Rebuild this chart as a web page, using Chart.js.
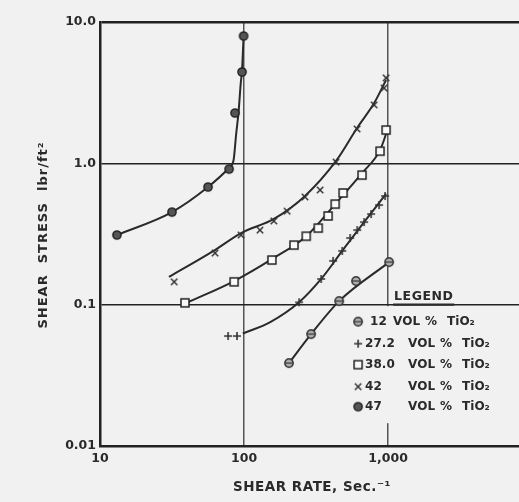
<!DOCTYPE html>
<html><head><meta charset="utf-8">
<script src="https://cdn.jsdelivr.net/npm/chart.js@4.4.0/dist/chart.umd.min.js"></script>
<style>html,body{margin:0;padding:0;background:#f1f1f1;}canvas{display:block;}</style>
</head><body>
<canvas id="c" width="519" height="502"></canvas>
<script>
// ---- tick labels ----
const xTicks = [10, 100, 1000];
const xTickLabels = ['10', '100', '1,000'];
const yTicks = [0.01, 0.1, 1, 10];
const yTickLabels = ['0.01', '0.1', '1.0', '10.0'];
const xTitle = 'SHEAR RATE, Sec.⁻¹';
const yTitle = 'SHEAR  STRESS  lbr/ft²';
const legendTitle = 'LEGEND';
const seriesNames = ['12', '27.2', '38.0', '42', '47'];
const legendWords = ['VOL', '%', 'TiO₂'];

// ---- measured points ----
const rate12 = [205, 292, 457, 599, 1016];
const stress12 = [0.0386, 0.0619, 0.106, 0.147, 0.200];
const rate27 = [77.5, 89.3, 241, 343, 415, 480, 545, 610, 681, 762, 866, 953];
const stress27 = [0.060, 0.060, 0.104, 0.152, 0.204, 0.240, 0.296, 0.337, 0.384, 0.438, 0.507, 0.587];
const rate38 = [38.9, 85.3, 156, 222, 270, 327, 383, 429, 487, 659, 879, 968];
const stress38 = [0.103, 0.145, 0.207, 0.264, 0.305, 0.348, 0.424, 0.515, 0.617, 0.826, 1.22, 1.72];
const rate42 = [32.7, 62.9, 95.3, 129, 161, 199, 265, 337, 435, 609, 800, 938, 968];
const stress42 = [0.145, 0.232, 0.311, 0.337, 0.391, 0.459, 0.578, 0.648, 1.02, 1.75, 2.59, 3.41, 4.02];
const rate47 = [13.1, 31.6, 56.2, 78.7, 86.6, 96.8, 99.3];
const stress47 = [0.311, 0.452, 0.68, 0.91, 2.27, 4.43, 7.96];

// ---- faired curves ----
const fitRate12 = [205, 292, 457, 1016];
const fitStress12 = [0.0386, 0.0619, 0.106, 0.200];
const fitRate27 = [98, 152, 241, 343, 480, 681, 968];
const fitStress27 = [0.0625, 0.0753, 0.104, 0.152, 0.240, 0.384, 0.607];
const fitRate38 = [40.8, 85.3, 156, 270, 429, 659, 879, 1000];
const fitStress38 = [0.104, 0.147, 0.210, 0.305, 0.515, 0.853, 1.24, 1.78];
const fitRate42 = [30.1, 61, 95.3, 161, 265, 435, 609, 800, 968];
const fitStress42 = [0.157, 0.239, 0.321, 0.404, 0.588, 1.04, 1.78, 2.67, 3.89];
const fitRate47 = [13.1, 31.6, 56.2, 78.7, 84.6, 88.0, 91.6, 94.6, 96.8, 99.3];
const fitStress47 = [0.311, 0.452, 0.68, 0.93, 1.055, 1.586, 2.31, 3.58, 4.57, 7.96];

const BG = '#f1f1f1';
const INK = '#2a2a2a';

function marker(size, draw) {
  const c = document.createElement('canvas');
  c.width = size; c.height = size;
  const g = c.getContext('2d');
  g.translate(size / 2, size / 2);
  draw(g);
  return c;
}
const mTheta = marker(12, g => {
  g.beginPath(); g.arc(0, 0, 4.2, 0, Math.PI * 2);
  g.fillStyle = '#b0b0b0'; g.fill();
  g.lineWidth = 1.4; g.strokeStyle = '#333'; g.stroke();
  g.beginPath(); g.moveTo(-4.2, 0); g.lineTo(4.2, 0); g.lineWidth = 1.2; g.stroke();
});
const mPlus = marker(12, g => {
  g.strokeStyle = '#333'; g.lineWidth = 1.6;
  g.beginPath(); g.moveTo(-4, 0); g.lineTo(4, 0); g.moveTo(0, -4); g.lineTo(0, 4); g.stroke();
});
const mSquare = marker(12, g => {
  g.fillStyle = '#fbfbfb'; g.fillRect(-4, -4, 8, 8);
  g.strokeStyle = '#222'; g.lineWidth = 1.5; g.strokeRect(-4, -4, 8, 8);
});
const mCross = marker(12, g => {
  g.strokeStyle = '#333'; g.lineWidth = 1.5;
  g.beginPath(); g.moveTo(-3.2, -3.2); g.lineTo(3.2, 3.2); g.moveTo(3.2, -3.2); g.lineTo(-3.2, 3.2); g.stroke();
});
const mDot = marker(12, g => {
  g.beginPath(); g.arc(0, 0, 4.1, 0, Math.PI * 2);
  g.fillStyle = '#555'; g.fill();
  g.lineWidth = 1.5; g.strokeStyle = '#222'; g.stroke();
});
const markers = [mTheta, mPlus, mSquare, mCross, mDot];

const pts = (xs, ys) => xs.map((v, i) => ({ x: v, y: ys[i] }));
const measured = [[rate12, stress12], [rate27, stress27], [rate38, stress38], [rate42, stress42], [rate47, stress47]];
const fits = [[fitRate12, fitStress12], [fitRate27, fitStress27], [fitRate38, fitStress38], [fitRate42, fitStress42], [fitRate47, fitStress47]];

const datasets = [];
measured.forEach((m, i) => {
  datasets.push({
    label: seriesNames[i] + ' VOL % TiO₂',
    data: pts(m[0], m[1]),
    showLine: false,
    pointStyle: markers[i],
    pointRadius: 5,
    order: 0
  });
});
fits.forEach((f, i) => {
  datasets.push({
    label: 'fit ' + seriesNames[i],
    data: pts(f[0], f[1]),
    showLine: true,
    borderColor: INK,
    borderWidth: 2,
    pointRadius: 0,
    cubicInterpolationMode: 'monotone',
    fill: false,
    order: 1
  });
});

const decor = {
  id: 'decor',
  beforeDatasetsDraw(chart) {
    const { ctx, scales: { x, y } } = chart;
    const gx = x.getPixelForValue(1000);
    const y1 = y.getPixelForValue(0.1) + 1.5;
    const y2 = y.getPixelForValue(0.0145);
    ctx.save();
    ctx.fillStyle = BG;
    ctx.fillRect(gx - 3, y1, 6, y2 - y1);
    ctx.restore();
  },
  afterDraw(chart) {
    const { ctx, scales: { x, y } } = chart;
    const gx = x.getPixelForValue(1000);
    const gy = y.getPixelForValue(0.1);
    ctx.save();
    ctx.fillStyle = INK;
    ctx.strokeStyle = INK;
    // LEGEND heading
    ctx.font = 'bold 12.5px "DejaVu Sans"';
    ctx.letterSpacing = '0.5px';
    ctx.textBaseline = 'alphabetic';
    ctx.textAlign = 'left';
    ctx.fillText(legendTitle, gx + 6, gy - 5);
    const w = ctx.measureText(legendTitle).width;
    ctx.lineWidth = 2.2;
    ctx.beginPath(); ctx.moveTo(gx + 5, gy); ctx.lineTo(gx + 7 + w, gy); ctx.stroke();
    // rows
    ctx.font = 'bold 12px "DejaVu Sans"';
    ctx.letterSpacing = '0px';
    ctx.textBaseline = 'middle';
    const rowOff = [17, 39, 60, 82, 102];
    seriesNames.forEach((n, i) => {
      const ry = gy + rowOff[i];
      const m = markers[i];
      ctx.drawImage(m, gx - 30 - m.width / 2, ry - m.height / 2);
      const shift = i === 0 ? -15 : 0;
      ctx.fillText(n, gx - 23 + (i === 0 ? 5 : 0), ry);
      ctx.fillText(legendWords[0], gx + 20 + shift, ry);
      ctx.fillText(legendWords[1], gx + 52 + shift, ry);
      ctx.fillText(legendWords[2], gx + 74 + shift, ry);
    });
    // axis titles
    ctx.textAlign = 'center';
    ctx.textBaseline = 'middle';
    ctx.font = 'bold 13.5px "DejaVu Sans"';
    ctx.letterSpacing = '0.5px';
    ctx.fillText(xTitle, 312, 487);
    ctx.translate(44, 235);
    ctx.rotate(-Math.PI / 2);
    ctx.font = 'bold 13px "DejaVu Sans"';
    ctx.letterSpacing = '1px';
    ctx.fillText(yTitle, 0, 0);
    ctx.restore();
  }
};

new Chart(document.getElementById('c'), {
  type: 'scatter',
  data: { datasets },
  plugins: [decor],
  options: {
    responsive: false,
    animation: false,
    devicePixelRatio: 1,
    layout: { autoPadding: false, padding: { top: 22, right: 0, bottom: 0, left: 0 } },
    plugins: { legend: { display: false }, tooltip: { enabled: false } },
    scales: {
      x: {
        type: 'logarithmic',
        min: 10, max: 8100,
        afterBuildTicks: s => { s.ticks = xTicks.map(v => ({ value: v })); },
        afterFit: s => { s.height = 56; },
        ticks: {
          callback: v => xTickLabels[xTicks.indexOf(v)],
          font: { family: 'DejaVu Sans', size: 12.5, weight: 'bold' },
          color: INK, padding: 5, maxRotation: 0, autoSkip: false
        },
        grid: {
          drawTicks: false,
          color: '#555',
          lineWidth: c => (c.tick && c.tick.value === 10) ? 0 : 1.5
        },
        border: { display: true, color: '#222', width: 2.5 }
      },
      y: {
        type: 'logarithmic',
        min: 0.01, max: 10,
        afterBuildTicks: s => { s.ticks = yTicks.map(v => ({ value: v })); },
        afterFit: s => { s.width = 100; },
        ticks: {
          callback: v => yTickLabels[yTicks.indexOf(v)],
          font: { family: 'DejaVu Sans', size: 12.5, weight: 'bold' },
          color: INK, padding: 4, autoSkip: false
        },
        grid: {
          drawTicks: false,
          color: '#222',
          lineWidth: c => {
            if (!c.tick) return 1.5;
            if (c.tick.value === 10) return 2.5;
            if (c.tick.value === 0.01) return 0;
            return 1.5;
          }
        },
        border: { display: true, color: '#222', width: 2.5 }
      }
    }
  }
});
</script>
</body></html>
